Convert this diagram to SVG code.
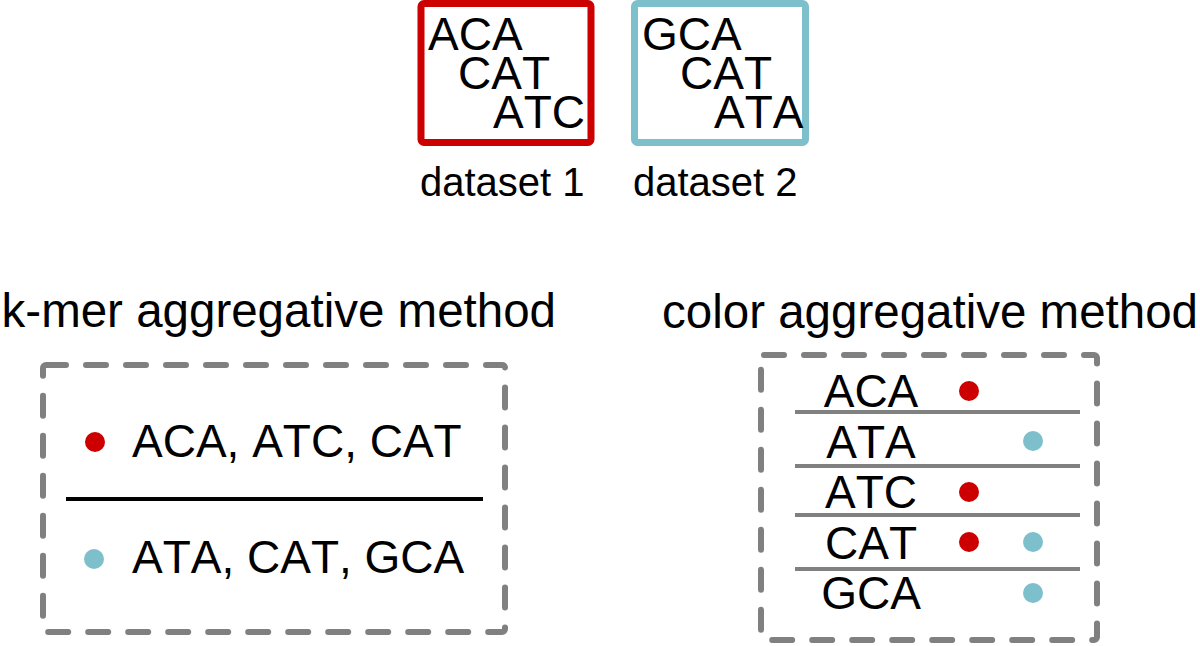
<svg xmlns="http://www.w3.org/2000/svg" width="1200" height="646" viewBox="0 0 1200 646">
<style>
text{font-family:"Liberation Sans",Arial,Helvetica,sans-serif;fill:#000;font-kerning:none}
.big{font-size:46px}
.title{font-size:47.5px}
.lbl{font-size:40px}
.dash{fill:none;stroke:#808080;stroke-width:6;stroke-dasharray:20 20;stroke-linecap:round;stroke-linejoin:round}
.sep{stroke:#808080;stroke-width:4}
.red{fill:#cc0000}
.cyan{fill:#7dc0cc}
</style>
<rect width="1200" height="646" fill="#fff"/>
<g id="dataset1">
<rect x="421" y="3.5" width="170" height="139" rx="3" fill="none" stroke="#cc0000" stroke-width="7"/>
<text class="big"><tspan x="428" y="50">ACA</tspan><tspan x="458" y="89">CAT</tspan><tspan x="493" y="128">ATC</tspan></text>
<text class="lbl" x="420" y="196">dataset 1</text>
</g>
<g id="dataset2">
<rect x="634.5" y="3.5" width="171" height="139" rx="3" fill="none" stroke="#7dc0cc" stroke-width="7"/>
<text class="big"><tspan x="642" y="50">GCA</tspan><tspan x="680" y="89">CAT</tspan><tspan x="714" y="128">ATA</tspan></text>
<text class="lbl" x="633" y="196">dataset 2</text>
</g>
<g id="kmer">
<text class="title" x="556" y="327" text-anchor="end">k-mer aggregative method</text>
<rect class="dash" x="43" y="365" width="462" height="267" rx="3"/>
<circle class="red" cx="95" cy="442" r="10"/>
<text class="big" x="132" y="457">ACA, ATC, CAT</text>
<line x1="66" y1="499" x2="483" y2="499" stroke="#000" stroke-width="4"/>
<circle class="cyan" cx="94" cy="559" r="10"/>
<text class="big" x="132" y="573">ATA, CAT, GCA</text>
</g>
<g id="color">
<text class="title" x="662" y="328">color aggregative method</text>
<rect class="dash" x="761" y="355" width="336" height="285" rx="3"/>
<g text-anchor="middle">
<text class="big" x="871" y="407">ACA</text>
<text class="big" x="871" y="458">ATA</text>
<text class="big" x="871" y="508">ATC</text>
<text class="big" x="871" y="559">CAT</text>
<text class="big" x="871" y="609">GCA</text>
</g>
<line class="sep" x1="795" y1="412" x2="1080" y2="412"/>
<line class="sep" x1="795" y1="466" x2="1080" y2="466"/>
<line class="sep" x1="795" y1="515" x2="1080" y2="515"/>
<line class="sep" x1="795" y1="569" x2="1080" y2="569"/>
<circle class="red" cx="969" cy="391" r="10"/>
<circle class="cyan" cx="1033" cy="441" r="10"/>
<circle class="red" cx="969" cy="492" r="10"/>
<circle class="red" cx="969" cy="542" r="10"/>
<circle class="cyan" cx="1033" cy="542" r="10"/>
<circle class="cyan" cx="1033" cy="593" r="10"/>
</g>
</svg>
